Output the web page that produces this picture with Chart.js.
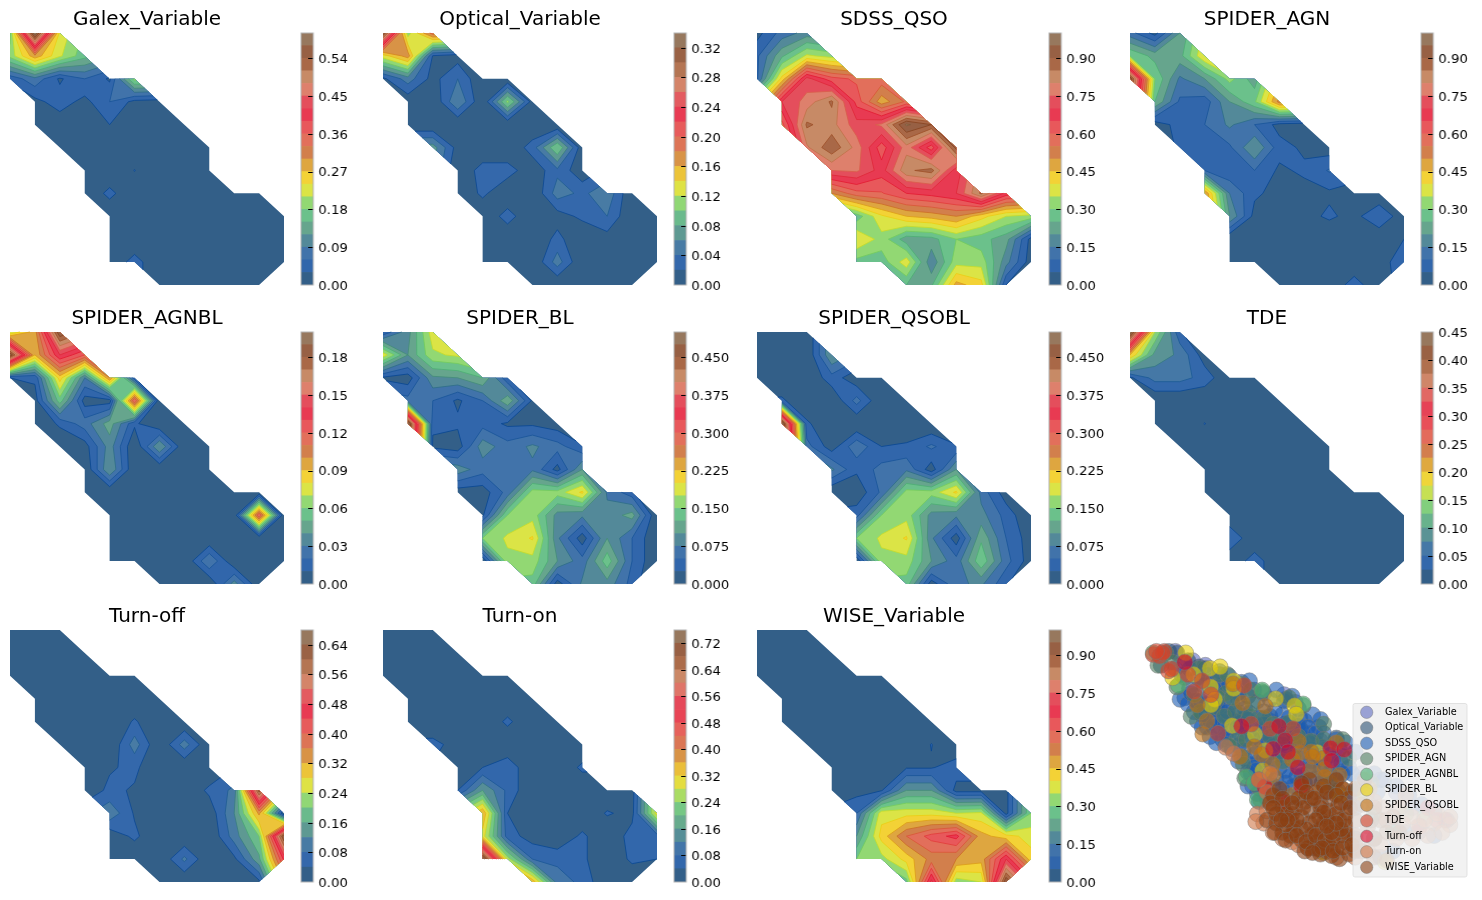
<!DOCTYPE html>
<html lang="en">
<head>
  <meta charset="UTF-8">
  <title>Class maps</title>
  <script src="https://cdn.jsdelivr.net/npm/chart.js"></script>
  <style>
    html, body { margin: 0; padding: 0; background: #fff; }
    #page { position: relative; width: 1482px; height: 900px; overflow: hidden; }
    #page canvas { position: absolute; display: block; }
  </style>
</head>
<body>
<div id="page"></div>
<script>
// first valid column of each grid row, the rows below only hold the valid cells
const rowStart = [0, 0, 0, 1, 1, 2, 3, 3, 4, 4, 4, 6];

const galexVariable = [
  [.17,.60,.23],
  [.19,.29,.215,.16],
  [.04,.08,.025,.06,.025,.19],
  [.02,.045,.02,.06,.02,.015],
  [0,.01,.01,.03,0,0,0],
  [0,0,0,0,0,0,0],
  [0,0,.031,0,0,0],
  [0,.04,0,0,0,0,0,0],
  [0,0,0,0,0,0,0,0],
  [0,0,0,0,0,0,0,0],
  [0,.045,0,0,0,0,0,0],
  [0,0,0,0,0]
];
const opticalVariable = [
  [.32,.11,.19],
  [.13,.17,.018,.01],
  [.015,.05,.012,.04,0,0],
  [.005,0,.06,0,.105,.01],
  [0,0,0,0,0,0,0],
  [.07,.01,0,0,.03,.10,.005],
  [0,.03,.03,.005,.035,.005],
  [0,.025,0,0,.05,.035,.055,0],
  [0,.03,0,.01,.025,.04,0,0],
  [0,0,0,.027,0,.01,0,0],
  [0,0,0,.05,0,0,0,0],
  [0,0,0,0,0]
];
const sdssQso = [
  [.03,.12,.17],
  [.09,.24,.36,.33],
  [.09,.42,.72,.62,.59,.58],
  [.70,.77,.86,.63,.47,.56],
  [.58,.86,.82,.72,.76,.96,.9],
  [.79,.89,.78,.62,.78,.62,.92],
  [.75,.76,.675,.84,.87,.67],
  [.50,.58,.595,.65,.67,.70,.86,.68],
  [.27,.39,.45,.47,.5,.42,.35,.33],
  [.40,.33,.22,.23,.3,.27,.22,.03],
  [.28,.27,.38,.16,.33,.33,.17,.02],
  [.25,.24,.47,.42,.05]
];
const spiderAgn = [
  [.12,.03,.2],
  [.3,.23,.23,.4],
  [.95,.3,.14,.2,.32,.22],
  [.25,.09,.07,.2,.29,.52],
  [.02,.07,.1,.16,.1,.03,.02],
  [.06,.07,.09,.2,.07,.04,.02],
  [.1,.06,.1,.04,.06,.105],
  [.5,.15,.06,.03,.03,.04,.02,0],
  [.2,.03,0,.03,.06,.03,.1,.01],
  [0,0,0,0,0,0,0,.05],
  [0,0,0,0,0,0,.01,.1],
  [0,0,0,.08,0]
];
const spiderAgnbl = [
  [.07,.095,.19],
  [.19,.09,.14,.12],
  [.01,.012,.085,.03,.10,.012],
  [.005,.055,.005,.005,.12,0],
  [0,.012,.025,.045,.012,0,0],
  [0,.005,.035,0,.04,0,0],
  [0,.04,0,0,0,0],
  [0,0,0,0,0,0,0,0],
  [0,0,0,0,0,0,.12,0],
  [0,0,0,0,0,0,0,0],
  [0,0,0,0,.03,0,0,0],
  [0,0,0,.035,0]
];
const spiderBl = [
  [.03,.09,.19],
  [.19,.10,.17,.18],
  [.02,.01,.095,.1,.125,.03],
  [.06,.05,.02,.05,.12,.02],
  [.5,.03,.03,.04,.02,.02,.01],
  [.02,.01,.09,.06,.08,.06,.03],
  [.09,.06,.06,.07,.015,.10],
  [.01,.01,.06,.16,.16,.205,.07,.035],
  [.02,.15,.165,.09,.08,.085,.11,0],
  [.15,.18,.203,.08,.01,.1,.05,0],
  [0,.168,.165,.1,.06,.14,.05,0],
  [.14,.01,.08,.09,.04]
];
const spiderQsobl = [
  [0,0,0],
  [0,0,0,.1],
  [0,0,0,.04,.005,0],
  [.03,0,0,.06,0,0],
  [.5,.03,0,0,0,0,0],
  [.06,.01,.07,.025,.03,.055,.03],
  [.08,.03,.06,.07,.01,.1],
  [0,.005,.055,.16,.16,.205,.065,.01],
  [.04,.15,.165,.09,.08,.085,.04,0],
  [.15,.18,.203,.08,.01,.12,.05,.01],
  [0,.168,.165,.1,.06,.145,.06,.01],
  [.14,.01,.07,.08,.03]
];
const tde = [
  [.45,.15,.03],
  [.2,.09,.07,.01],
  [.02,.06,.06,.04,0,0],
  [0,0,0,0,0,0],
  [0,0,.026,0,0,0,0],
  [0,0,0,0,0,0,0],
  [0,0,0,0,0,0],
  [0,0,0,0,0,0,0,0],
  [0,0,0,0,0,0,0,0],
  [.05,0,0,0,0,0,0,0],
  [0,.04,0,0,0,0,0,0],
  [0,0,0,0,0]
];
const turnOff = [
  [0,0,0],
  [0,0,0,0],
  [0,0,0,0,0,0],
  [0,0,0,0,0,0],
  [0,0,0,0,.046,0,0],
  [0,0,0,.1,0,.1,0],
  [0,.035,.05,0,0,0],
  [.01,.05,.035,0,0,.05,.09,.62],
  [.11,.035,0,0,.01,.12,.33,0],
  [.01,.05,0,0,0,.1,.2,.64],
  [0,0,0,.09,0,.03,.15,.45],
  [0,0,0,0,.03]
];
const turnOn = [
  [0,0,0],
  [0,0,0,0],
  [0,0,0,0,0,0],
  [0,0,0,0,0,0],
  [0,0,0,0,.05,0,0],
  [.055,.02,0,0,0,0,0],
  [0,.04,.07,0,0,.05],
  [.04,.16,.07,0,0,0,0,.02],
  [.36,.04,0,0,0,.045,.025,.3],
  [.3,.06,.02,0,.05,0,.06,.06],
  [.76,.26,.08,.07,.05,0,.05,.04],
  [.35,.1,.07,0,0]
];
const wiseVariable = [
  [0,0,0],
  [0,0,0,0],
  [0,0,0,0,0,0],
  [0,0,0,0,0,0],
  [0,0,0,0,0,0,0],
  [0,0,0,0,0,.052,0],
  [0,0,0,.045,.045,.08],
  [0,.03,.045,.2,.2,.03,.03,.03],
  [.1,.38,.38,.38,.35,.36,.03,.3],
  [.2,.42,.55,.62,.67,.47,.42,.38],
  [.3,.33,.42,.52,.5,.47,.7,.42],
  [.28,.72,.32,.35,.95]
];

const classNames = ['Galex_Variable', 'Optical_Variable', 'SDSS_QSO', 'SPIDER_AGN', 'SPIDER_AGNBL', 'SPIDER_BL',
  'SPIDER_QSOBL', 'TDE', 'Turn-off', 'Turn-on', 'WISE_Variable'];
const classGrids = [galexVariable, opticalVariable, sdssQso, spiderAgn, spiderAgnbl, spiderBl,
  spiderQsobl, tde, turnOff, turnOn, wiseVariable];

// contour level step and number of bands of every panel
const levelStep = [.03, .02, .05, .05, .01, .025, .025, .025, .04, .04, .05];
const bandCount = [20, 17, 20, 20, 20, 20, 20, 18, 17, 19, 20];
const tickLabels = [
  ['0.00','0.09','0.18','0.27','0.36','0.45','0.54'],
  ['0.00','0.04','0.08','0.12','0.16','0.20','0.24','0.28','0.32'],
  ['0.00','0.15','0.30','0.45','0.60','0.75','0.90'],
  ['0.00','0.15','0.30','0.45','0.60','0.75','0.90'],
  ['0.00','0.03','0.06','0.09','0.12','0.15','0.18'],
  ['0.000','0.075','0.150','0.225','0.300','0.375','0.450'],
  ['0.000','0.075','0.150','0.225','0.300','0.375','0.450'],
  ['0.00','0.05','0.10','0.15','0.20','0.25','0.30','0.35','0.40','0.45'],
  ['0.00','0.08','0.16','0.24','0.32','0.40','0.48','0.56','0.64'],
  ['0.00','0.08','0.16','0.24','0.32','0.40','0.48','0.56','0.64','0.72'],
  ['0.00','0.15','0.30','0.45','0.60','0.75','0.90']
];

// the map colours as they look on white, low to high
const mapColors = ['#335f88','#3166ab','#4173aa','#538999','#66a58d','#6bc18b','#92d873','#dbe446','#f3d236','#dea640',
  '#d27f4c','#e26f5b','#e8585b','#e83a52','#e44e5c','#de806c','#c78a66','#a96847','#976044','#97785e'];

// scatter panel, one list of [x, y] per class in embedding units
const galexPts = [[185,85],[225,100],[260,155],[130,55],[160,95],[475,195],[510,220],[375,490],[780,470],[830,510],[880,560],[720,450],[670,540],[590,345],[335,255]];
const opticalPts = [[110,55],[135,60],[85,100],[205,105],[250,150],[295,175],[330,210],[260,240],[360,200],[410,190],[290,260],[350,270],[395,270],[430,265],[475,290],[520,310],[545,340],[480,365],[640,335],[595,480],[650,445],[610,510],[700,560],[750,600],[700,660],[760,660],[820,620],[480,210],[170,85],[225,110]];
const sdssPts = [[160,205],[190,250],[175,175],[215,300],[240,330],[255,270],[280,340],[310,370],[300,300],[320,250],[285,210],[240,200],[345,290],[350,340],[385,360],[365,255],[410,250],[400,310],[440,330],[430,280],[470,260],[500,300],[540,280],[555,320],[585,300],[510,360],[470,390],[430,380],[395,410],[350,400],[370,450],[420,440],[460,430],[500,410],[540,380],[575,350],[610,370],[640,340],[660,395],[625,420],[590,400],[555,440],[515,460],[480,480],[440,490],[400,500],[395,465],[600,460],[640,470],[680,430],[700,380],[720,470],[760,450],[790,470],[250,240],[220,165],[280,160],[330,190],[380,180],[430,210],[475,215],[520,240],[130,110],[175,110],[230,130],[270,120],[300,135],[340,155],[310,220],[205,230],[270,300],[335,320],[455,355],[490,335],[530,345],[570,385],[645,505],[690,510],[735,520],[770,510],[830,490],[870,520],[910,550],[950,570],[990,600],[860,640],[900,640],[950,650],[820,700],[780,720],[600,700],[570,690],[500,525],[460,525],[420,530],[395,540],
  [145,210],[170,225],[200,280],[230,300],[260,350],[290,320],[320,280],[350,240],[390,215],[410,290],[445,245],[490,270],[525,270],[565,260],[590,275],[430,350],[400,340],[370,310],[330,360],[300,335],[345,375],[365,420],[410,405],[445,410],[480,440],[520,430],[560,410],[590,430],[620,390],[650,370],[670,350],[690,450],[660,450],[620,450],[575,465],[540,480],[505,490],[470,500],[430,520],[390,515],[360,490],[385,385],[420,355],[460,300],[510,340],[530,310],[560,370],[250,300],[225,260],[195,215],[230,225],[270,240],[300,270],[335,285],[280,280],[150,130],[200,140],[255,180],[300,160],[365,150],[450,180],[500,200],
  [180,190],[210,215],[265,225],[295,250],[325,300],[360,275],[385,290],[415,320],[450,300],[480,320],[520,295],[550,300],[575,320],[600,320],[455,380],[490,380],[525,400],[380,430],[330,410],[360,445],[410,470],[450,465],[490,460],[530,455],[565,425],[600,415],[630,400],[655,415],[290,355],[265,320],[240,280],[215,260],[375,335],[440,360],[555,350],[595,365],[505,320],[470,355],[420,400],[385,440]];
const agnPts = [[75,100],[100,60],[120,90],[135,170],[160,140],[205,110],[270,130],[295,130],[340,160],[370,180],[405,185],[490,205],[535,230],[180,265],[210,250],[250,235],[285,265],[320,250],[365,265],[410,270],[440,290],[490,285],[520,330],[560,345],[600,290],[325,340],[300,360],[355,340],[340,395],[345,420],[350,465],[390,490],[425,460],[470,410],[505,395],[470,330],[430,330],[215,150],[190,195],[290,190],[240,170],[265,205],[375,225],[310,205],[600,340],[660,340],[680,400],[620,480],[640,510],[400,535],[710,500],[750,480]];
const agnblPts = [[60,60],[140,165],[405,180],[535,225],[355,460],[380,480],[390,535],[860,580],[920,590],[760,580],[820,640]];
const blPts = [[163,60],[122,140],[188,130],[240,110],[272,105],[315,150],[315,175],[242,170],[255,210],[243,228],[448,208],[508,231],[513,258],[310,295],[382,323],[415,375],[407,440],[580,382],[600,705],[795,735],[650,520],[730,520]];
const qsoblPts = [[313,160],[200,228],[343,222],[415,232],[230,280],[217,322],[335,395],[380,363],[403,388],[438,420],[500,405],[525,383],[560,380],[600,400],[558,440],[603,435],[603,460],[520,345],[440,455],[640,350],[565,395],[590,500],[660,500],[420,495],[445,530],[470,555],[500,520],[530,500],[620,690],[700,690],[745,500],[650,455]];
const tdePts = [[60,65],[80,70],[95,55],[90,60],[70,55],[108,118],[118,112],[170,130],[215,150],[190,185],[243,195],[348,165],[370,290],[430,305],[503,305],[395,470],[480,580],[530,490],[265,320]];
const turnOffPts = [[160,90],[340,297],[458,297],[478,342],[487,380],[518,430],[622,368],[625,408],[665,372],[413,492],[470,540],[530,490],[440,370],[960,600],[985,600],[930,560],[905,620]];
const turnOnPts = [[390,580],[410,610],[385,605],[440,640],[420,510],[435,545],[395,470],[430,450],[290,365],[315,385],[500,670],[470,660],[520,680],[550,690],[610,700],[800,600],[850,610],[900,620],[950,610],[1000,615],[975,640],[930,650],[880,660],[830,660],[780,680],[740,700],[700,720],[790,560],[840,560],[880,590],[920,600],[960,580],[1000,590],[860,520],[760,540],[420,570],[460,600],[640,720],[700,670]];
const wisePts = [[440,520],[470,560],[430,545],[420,600],[450,610],[480,580],[510,560],[540,540],[575,510],[555,470],[530,480],[600,490],[640,470],[660,500],[680,530],[620,530],[590,545],[560,570],[530,590],[500,610],[470,640],[495,650],[525,625],[555,610],[585,590],[615,570],[645,555],[675,575],[650,600],[620,610],[590,630],[560,650],[530,665],[550,690],[580,670],[610,650],[640,640],[670,620],[700,600],[700,650],[670,670],[640,690],[615,680],[590,710],[650,725],[680,710],[720,700],[760,660],[740,620],[780,600],[760,560],[720,550],[700,500],[730,470],[800,640],[820,590],[840,640],[760,720],[800,730],[460,500],[520,530],[570,640],[610,590],[500,580],[450,580],[540,700],[675,645],[625,715],[590,560],[560,530],[535,560],[600,610],[640,580],[660,650],[700,700],[585,695],[505,635],[480,615],
  [470,530],[500,545],[545,510],[570,530],[610,510],[640,520],[655,545],[600,575],[575,600],[545,630],[515,600],[485,600],[445,640],[480,665],[515,650],[545,670],[575,650],[605,665],[630,660],[655,630],[625,640],[595,690],[565,705],[630,700],[660,690],[690,680],[665,600],[685,560],[640,610],[610,620],[440,560],[465,600]];
const classPoints = [galexPts, opticalPts, sdssPts, agnPts, agnblPts, blPts, qsoblPts, tdePts, turnOffPts, turnOnPts, wisePts];
const classColors = ['95,109,193', '44,82,117', '26,92,179', '77,123,95', '77,179,112', '231,206,3', '193,111,15', '211,66,41', '215,9,41', '206,118,72', '139,63,18'];

// page layout
const plotLefts = [10, 383, 757, 1130];
const rowTops = [33, 332, 630];
const barLefts = [301, 674, 1049, 1421];
const plotW = 274, plotH = 252, barW = 12.5, titleH = 33;

Chart.defaults.font.family = '"DejaVu Sans"';
Chart.defaults.animation = false;

function hexRgb(h) {
  return [1, 3, 5].map(i => parseInt(h.substr(i, 2), 16));
}
// colour of band i out of n, read along the colour list
function bandRgb(i, n) {
  const t = n > 1 ? i / (n - 1) * (mapColors.length - 1) : 0;
  const a = Math.floor(t), b = Math.min(a + 1, mapColors.length - 1), f = t - a;
  const ca = hexRgb(mapColors[a]), cb = hexRgb(mapColors[b]);
  return ca.map((v, k) => v + (cb[k] - v) * f);
}
const css = c => 'rgb(' + c.map(v => Math.round(v)).join(',') + ')';
// the edge between two translucent bands is where both layers overlap, so it comes out darker
function edgeRgb(lo, hi) {
  return hi.map((v, k) => Math.max(0, v - 0.2 * (255 - lo[k])));
}

// clip one grid cell (triangle or quad) against value >= lev
function clipCell(cell, lev) {
  const n = cell.length, hi = cell.map(c => c.v >= lev);
  const cross = (a, b) => {
    const t = (lev - a.v) / (b.v - a.v);
    return { x: a.x + (b.x - a.x) * t, y: a.y + (b.y - a.y) * t, iso: true };
  };
  if (n === 4 && hi[0] === hi[2] && hi[1] === hi[3] && hi[0] !== hi[1]) {
    const mean = (cell[0].v + cell[1].v + cell[2].v + cell[3].v) / 4;
    if (mean < lev) {
      // saddle with the low side joined: two separate corners
      const polys = [];
      for (let k = 0; k < 4; k++) {
        if (hi[k]) polys.push([cell[k], cross(cell[k], cell[(k + 1) % 4]), cross(cell[k], cell[(k + 3) % 4])]);
      }
      return polys;
    }
  }
  const pts = [];
  for (let k = 0; k < n; k++) {
    const a = cell[k], b = cell[(k + 1) % n];
    if (hi[k]) pts.push(a);
    if (hi[k] !== hi[(k + 1) % n]) pts.push(cross(a, b));
  }
  return pts.length > 2 ? [pts] : [];
}

const contourPlugin = {
  id: 'contour',
  beforeDatasetsDraw(chart) {
    const ds = chart.data.datasets[0], xs = chart.scales.x, ys = chart.scales.y, ctx = chart.ctx;
    const grid = {};
    ds.data.forEach(p => { grid[p.x + '_' + p.y] = p; });
    const cells = [];
    for (let r = 0; r < 11; r++) {
      for (let c = 0; c < 11; c++) {
        const cell = [grid[c + '_' + r], grid[(c + 1) + '_' + r], grid[(c + 1) + '_' + (r + 1)], grid[c + '_' + (r + 1)]].filter(Boolean);
        if (cell.length >= 3) cells.push(cell);
      }
    }
    const px = p => xs.getPixelForValue(p.x), py = p => ys.getPixelForValue(p.y);
    const n = ds.bands, edges = [];
    ctx.save();
    for (let i = 0; i < n; i++) {
      const lev = i * ds.step + (i === 0 ? -1 : 0);
      ctx.beginPath();
      const segs = [];
      cells.forEach(cell => {
        clipCell(cell, lev).forEach(poly => {
          poly.forEach((p, k) => {
            if (k === 0) ctx.moveTo(px(p), py(p)); else ctx.lineTo(px(p), py(p));
            const q = poly[(k + 1) % poly.length];
            if (p.iso && q.iso) segs.push([p, q]);
          });
          ctx.closePath();
        });
      });
      ctx.fillStyle = css(bandRgb(i, n));
      ctx.fill();
      if (i > 0) edges.push({ segs, color: css(edgeRgb(bandRgb(i - 1, n), bandRgb(i, n))) });
    }
    ctx.lineWidth = 0.8;
    edges.forEach(e => {
      ctx.strokeStyle = e.color;
      ctx.beginPath();
      e.segs.forEach(s => { ctx.moveTo(px(s[0]), py(s[0])); ctx.lineTo(px(s[1]), py(s[1])); });
      ctx.stroke();
    });
    ctx.restore();
  }
};

// colour bar outline and the short ticks that sit inside it
const barFramePlugin = {
  id: 'barFrame',
  afterDraw(chart) {
    const a = chart.chartArea, ctx = chart.ctx, ys = chart.scales.y;
    ctx.save();
    ctx.strokeStyle = '#000';
    ctx.lineWidth = 1;
    ys.ticks.forEach(t => {
      const y = ys.getPixelForValue(t.value);
      if (y <= a.top + 1 || y >= a.bottom - 1) return;
      ctx.beginPath();
      ctx.moveTo(a.right - 5, Math.round(y) + 0.5);
      ctx.lineTo(a.right, Math.round(y) + 0.5);
      ctx.stroke();
    });
    ctx.strokeStyle = '#b3b3b3';
    ctx.strokeRect(a.left, a.top, a.right - a.left, a.bottom - a.top);
    ctx.restore();
  }
};

// legend sits over the points in the lower right, the stock legend can't go there
const innerLegendPlugin = {
  id: 'innerLegend',
  afterDatasetsDraw(chart) {
    const ctx = chart.ctx, x0 = 223, y0 = 73.5, w = 114, h = 173.5;
    ctx.save();
    ctx.beginPath();
    ctx.roundRect(x0, y0, w, h, 2);
    ctx.fillStyle = 'rgba(240,240,240,0.86)';
    ctx.fill();
    ctx.strokeStyle = 'rgba(220,220,220,0.8)';
    ctx.lineWidth = 1;
    ctx.stroke();
    ctx.font = '9.7px "DejaVu Sans"';
    ctx.textBaseline = 'middle';
    chart.data.datasets.forEach((ds, i) => {
      const y = y0 + 8.8 + i * 15.5;
      ctx.beginPath();
      ctx.arc(x0 + 13.7, y, 6.2, 0, Math.PI * 2);
      ctx.fillStyle = ds.backgroundColor;
      ctx.fill();
      ctx.strokeStyle = ds.borderColor;
      ctx.stroke();
      ctx.fillStyle = '#000';
      ctx.fillText(ds.label, x0 + 32, y);
    });
    ctx.restore();
  }
};

function addCanvas(left, top, w, h) {
  const cv = document.createElement('canvas');
  cv.width = w; cv.height = h;
  cv.style.left = left + 'px'; cv.style.top = top + 'px';
  cv.style.width = w + 'px'; cv.style.height = h + 'px';
  document.getElementById('page').appendChild(cv);
  return cv;
}

classNames.forEach((name, idx) => {
  const col = idx % 4, row = Math.floor(idx / 4);
  const points = [];
  classGrids[idx].forEach((vals, r) => vals.forEach((v, k) => points.push({ x: rowStart[r] + k, y: r, v: v })));

  new Chart(addCanvas(plotLefts[col], rowTops[row] - titleH, plotW, plotH + titleH), {
    type: 'scatter',
    data: { datasets: [{ data: points, pointRadius: 0, step: levelStep[idx], bands: bandCount[idx] }] },
    options: {
      responsive: false,
      events: [],
      layout: { padding: 0 },
      scales: {
        x: { type: 'linear', display: false, min: 0, max: 11 },
        y: { type: 'linear', display: false, min: 0, max: 11, reverse: true }
      },
      plugins: {
        legend: { display: false },
        tooltip: { enabled: false },
        title: {
          display: true, text: name, color: '#000',
          font: { size: 20, weight: 'normal', lineHeight: 1.2 },
          padding: { top: 7.5, bottom: 1.5 }
        }
      }
    },
    plugins: [contourPlugin]
  });

  // colour bar, one floating bar per band
  const n = bandCount[idx], step = levelStep[idx], bars = [];
  for (let i = 0; i < n; i++) {
    bars.push({ data: [[i * step, (i + 1) * step]], backgroundColor: css(bandRgb(i, n)),
      barPercentage: 1, categoryPercentage: 1, borderWidth: 0 });
  }
  const ticks = tickLabels[idx];
  new Chart(addCanvas(barLefts[col] - 2, rowTops[row] - 10, 2 + barW + 46, plotH + 20), {
    type: 'bar',
    data: { labels: [''], datasets: bars },
    options: {
      responsive: false,
      events: [],
      layout: { padding: { left: 2, top: 10, bottom: 10, right: 0 } },
      scales: {
        x: { display: false, stacked: true },
        y: {
          position: 'right', min: 0, max: n * step,
          afterBuildTicks: s => { s.ticks = ticks.map(t => ({ value: parseFloat(t) })); },
          afterFit: s => { s.width = 46; s.paddingTop = 0; s.paddingBottom = 0; },
          grid: { display: false, drawTicks: false },
          border: { display: false },
          ticks: {
            autoSkip: false, color: '#000', padding: 5, labelOffset: 1.5, font: { size: 13 },
            callback: (v, i) => ticks[i]
          }
        }
      },
      plugins: { legend: { display: false }, tooltip: { enabled: false } }
    },
    plugins: [barFramePlugin]
  });
});

// last panel: all classes together
new Chart(addCanvas(1130, 630, 340, 252), {
  type: 'scatter',
  data: {
    datasets: classNames.map((name, i) => ({
      label: name,
      data: classPoints[i].map(p => ({ x: p[0], y: p[1] })),
      backgroundColor: 'rgba(' + classColors[i] + ',0.6)',
      borderColor: 'rgba(120,120,120,0.45)',
      borderWidth: 1,
      pointRadius: 8,
      order: classNames.length - i
    }))
  },
  options: {
    responsive: false,
    events: [],
    layout: { padding: 0 },
    scales: {
      x: { type: 'linear', display: false, min: 15, max: 1035 },
      y: { type: 'linear', display: false, min: 15, max: 771, reverse: true }
    },
    plugins: { legend: { display: false }, tooltip: { enabled: false } }
  },
  plugins: [innerLegendPlugin]
});
</script>
</body>
</html>
